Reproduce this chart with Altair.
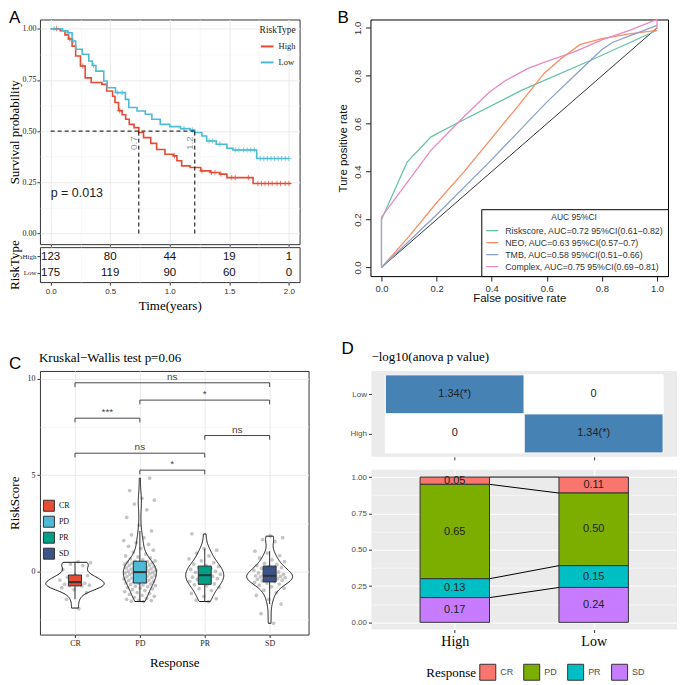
import altair as alt
import pandas as pd

SERIF = "Liberation Serif"
SANS = "Liberation Sans"
GRID = "#EBEBEB"
MINOR = "#F4F4F4"
TXT = "#333333"

# ---------------- Panel A : Kaplan-Meier ----------------
high_t = [0, 0.08, 0.12, 0.15, 0.18, 0.21, 0.25, 0.29, 0.34, 0.43, 0.47, 0.52, 0.54, 0.57, 0.60, 0.63,
          0.66, 0.70, 0.74, 0.78, 0.84, 0.89, 0.96, 1.03, 1.06, 1.10, 1.17, 1.26, 1.34, 1.42, 1.48, 1.70, 2.02]
high_s = [1.0, 0.99, 0.97, 0.95, 0.915, 0.867, 0.818, 0.76, 0.737, 0.728, 0.696, 0.67, 0.64, 0.60, 0.58, 0.558,
          0.533, 0.517, 0.493, 0.468, 0.44, 0.41, 0.387, 0.379, 0.355, 0.33, 0.322, 0.306, 0.298, 0.29, 0.273, 0.244, 0.244]
low_t = [0, 0.10, 0.14, 0.18, 0.21, 0.265, 0.32, 0.35, 0.38, 0.446, 0.474, 0.544, 0.628, 0.656, 0.725,
         0.795, 0.85, 0.92, 1.0, 1.09, 1.17, 1.21, 1.27, 1.31, 1.39, 1.48, 1.53, 1.73, 2.0]
low_s = [1.0, 0.99, 0.98, 0.94, 0.90, 0.875, 0.842, 0.82, 0.793, 0.745, 0.712, 0.688, 0.655, 0.615, 0.598,
         0.582, 0.558, 0.533, 0.522, 0.512, 0.505, 0.493, 0.476, 0.452, 0.436, 0.416, 0.408, 0.366, 0.366]
high_ct = [0.05, 0.16, 0.27, 0.58, 1.04, 1.27, 1.35, 1.38, 1.43, 1.52, 1.55, 1.66,
           1.74, 1.77, 1.80, 1.83, 1.86, 1.90, 1.93, 1.97, 2.00]
high_cs = [1.0, 0.95, 0.818, 0.60, 0.379, 0.306, 0.298, 0.298, 0.29, 0.273, 0.273, 0.273,
           0.244, 0.244, 0.244, 0.244, 0.244, 0.244, 0.244, 0.244, 0.244]
low_ct = [0.03, 0.15, 0.19, 0.36, 0.56, 0.60, 1.12, 1.19, 1.33, 1.36, 1.42, 1.55, 1.58, 1.62, 1.65, 1.68, 1.71,
          1.76, 1.79, 1.82, 1.85, 1.88, 1.91, 1.94, 1.97, 2.0]
low_cs = [1.0, 0.98, 0.94, 0.82, 0.688, 0.688, 0.512, 0.505, 0.452, 0.452, 0.436, 0.408, 0.408, 0.408, 0.408,
          0.408, 0.408, 0.366, 0.366, 0.366, 0.366, 0.366, 0.366, 0.366, 0.366, 0.366]
median_t = [0.74, 1.21]
median_lab = ["0.7", "1.2"]
pval_text = ["p = 0.013"]
pval_pos = [0.0, 0.20]
risk_times = [0, 0.5, 1, 1.5, 2]
risk_high = [123, 80, 44, 19, 1]
risk_low = [175, 119, 90, 60, 0]

# ---------------- Panel B : ROC ----------------
roc_labels = ["Riskscore, AUC=0.72 95%CI(0.61\u22120.82)", "NEO, AUC=0.63 95%CI(0.57\u22120.7)",
              "TMB, AUC=0.58 95%CI(0.51\u22120.66)", "Complex, AUC=0.75 95%CI(0.69\u22120.81)"]
roc_colors = ["#66C2A5", "#FC8D62", "#8DA0CB", "#E78AC3"]
risk_fpr = [0, 0, 0.093, 0.18, 0.27, 0.51, 0.76, 1.0]
risk_tpr = [0, 0.20, 0.44, 0.545, 0.60, 0.74, 0.865, 0.99]
neo_fpr = [0, 0.10, 0.20, 0.30, 0.40, 0.50, 0.59, 0.65, 0.72, 0.80, 0.90, 1.0]
neo_tpr = [0, 0.13, 0.27, 0.40, 0.54, 0.68, 0.81, 0.87, 0.93, 0.955, 0.975, 0.99]
tmb_fpr = [0, 0.20, 0.40, 0.60, 0.70, 0.80, 0.84, 0.92, 1.0]
tmb_tpr = [0, 0.22, 0.45, 0.69, 0.80, 0.91, 0.94, 0.975, 1.01]
cpx_fpr = [0, 0, 0.09, 0.18, 0.24, 0.30, 0.39, 0.45, 0.53, 0.60, 0.70, 0.80, 0.90, 1.0, 1.0]
cpx_tpr = [0, 0.21, 0.35, 0.49, 0.56, 0.63, 0.73, 0.78, 0.83, 0.86, 0.90, 0.95, 0.99, 1.035, 0.995]
diag_x = [0, 1]
diag_y = [0, 1]

# ---------------- Panel C : RiskScore by Response ----------------
resp = ["CR", "PD", "PR", "SD"]
resp_colors = ["#E64B35", "#4DBBD5", "#00A087", "#3C5488"]
cr_vals = [-1.94, -1.45, -1.1, -0.95, -0.85, -0.76, -0.74, -0.72, -0.7, -0.67, -0.62,
           -0.5, -0.45, -0.4, -0.3, -0.22, -0.18, 0.1, 0.3, 0.38, 0.45, 0.5]
pd_vals = [-1.57, -1.55, -1.52, -1.5, -1.45, -1.4, -1.35, -1.3, -1.25, -1.2, -1.15, -1.1, -1.05, -1.0, -0.95,
           -0.9, -0.87, -0.84, -0.8, -0.77, -0.74, -0.71, -0.68, -0.65, -0.62,
           -0.6, -0.57, -0.55, -0.52, -0.5, -0.47, -0.45, -0.42, -0.4, -0.37, -0.35, -0.32, -0.3, -0.27, -0.25,
           -0.22, -0.2, -0.18, -0.15, -0.13, -0.11, -0.09, -0.07, -0.06, -0.05,
           -0.03, 0.0, 0.02, 0.04, 0.06, 0.09, 0.11, 0.13, 0.15, 0.18, 0.2, 0.22, 0.25, 0.27, 0.3, 0.32, 0.35,
           0.37, 0.4, 0.42, 0.44, 0.46, 0.48, 0.5, 0.52,
           0.55, 0.6, 0.65, 0.7, 0.75, 0.8, 0.9, 1.0, 1.1, 1.2, 1.3, 1.4, 1.5, 1.6, 1.75, 1.9, 2.1, 2.4, 2.8,
           3.2, 3.5, 3.7, 3.8, 4.2, 4.85]
pr_vals = [-1.57, -1.5, -1.42, -1.3, -1.15, -1.0, -0.9, -0.82, -0.75, -0.7, -0.65, -0.58, -0.52, -0.47,
           -0.42, -0.38, -0.34, -0.3, -0.26, -0.2, -0.15, -0.1, -0.05, 0.0, 0.05, 0.1, 0.15, 0.2, 0.25, 0.3,
           0.38, 0.45, 0.55, 0.65, 0.8, 0.95, 1.1, 1.18, 1.95]
sd_vals = [-2.7, -2.2, -1.7, -1.45, -1.25, -1.1, -0.98, -0.88, -0.8, -0.72, -0.66, -0.61, -0.57, -0.53, -0.5,
           -0.47, -0.44, -0.41, -0.38, -0.35, -0.33, -0.31, -0.29, -0.27, -0.25, -0.23, -0.21, -0.18, -0.15,
           -0.12, -0.08, -0.04, 0.0, 0.05, 0.1, 0.15, 0.2, 0.25, 0.3, 0.35, 0.42, 0.5, 0.6, 0.7, 0.82, 0.95,
           1.05, 1.55, 1.65, 1.75, 1.85]
br_from = ["CR", "PD", "CR", "PR", "CR", "PD"]
br_to = ["SD", "SD", "PD", "SD", "PR", "PR"]
br_y = [9.8, 8.9, 7.96, 7.06, 6.14, 5.26]
br_lab = ["ns", "*", "***", "ns", "ns", "*"]

# ---------------- Panel D : heatmap + stacked proportions ----------------
hm_col = ["High", "Low", "High", "Low"]
hm_row = ["Low", "Low", "High", "High"]
hm_val = [1.34, 0, 0, 1.34]
hm_lab = ["1.34(*)", "0", "0", "1.34(*)"]
bar_group = ["High"] * 4 + ["Low"] * 4
bar_resp = ["CR", "PD", "PR", "SD"] * 2
bar_prop = [0.05, 0.65, 0.13, 0.17, 0.11, 0.50, 0.15, 0.24]
d_colors = ["#F8766D", "#7CAE00", "#00BFC4", "#C77CFF"]


def label(txt, dx, dy, font=SANS, size=17, baseline="top"):
    return alt.Chart(pd.DataFrame({"lab": [txt]})).mark_text(
        font=font, fontSize=size, align="left", baseline=baseline, color="black"
    ).encode(text="lab:N", x=alt.value(dx), y=alt.value(dy))


def grid_axis(orient, values, color, width):
    return alt.Axis(orient=orient, values=values, labels=False, ticks=False, domain=False,
                    title=None, grid=True, gridColor=color, gridWidth=width)


# ======== A ========
xA = alt.Scale(domain=[-0.09, 2.09], nice=False, zero=False)
yA = alt.Scale(domain=[-0.052, 1.045], nice=False, zero=False)
colA = alt.Scale(domain=["High", "Low"], range=["#E64B35", "#4DBBD5"])

km_df = pd.DataFrame({"time": high_t + low_t, "surv": high_s + low_s,
                      "RiskType": ["High"] * len(high_t) + ["Low"] * len(low_t)})
cens_df = pd.DataFrame({"time": high_ct + low_ct, "surv": high_cs + low_cs,
                        "RiskType": ["High"] * len(high_ct) + ["Low"] * len(low_ct)})
med_df = pd.DataFrame({"t": median_t, "lab": median_lab})
pv_df = pd.DataFrame({"t": [pval_pos[0]], "s": [pval_pos[1]], "lab": pval_text})

km_minor = alt.Chart(km_df).mark_point(opacity=0).encode(
    x=alt.X("time:Q", scale=xA, axis=grid_axis("bottom", [0.25, 0.75, 1.25, 1.75], MINOR, 0.6)),
    y=alt.Y("surv:Q", scale=yA, axis=grid_axis("left", [0.125, 0.375, 0.625, 0.875], MINOR, 0.6)),
)
km_lines = alt.Chart(km_df).mark_line(interpolate="step-after", strokeWidth=1.6).encode(
    x=alt.X("time:Q", scale=xA, axis=alt.Axis(orient="bottom", values=[0, 0.5, 1, 1.5, 2], labels=False,
                                               tickColor=TXT, tickSize=2, domain=False, title=None,
                                               grid=True, gridColor=GRID)),
    y=alt.Y("surv:Q", scale=yA, axis=alt.Axis(orient="left", values=[0, 0.25, 0.5, 0.75, 1], format=".2f",
                                               labelFont=SERIF, labelFontSize=8, labelColor="#222",
                                               tickColor=TXT, tickSize=3, domain=False, grid=True,
                                               gridColor=GRID, title="Survival probability",
                                               titleFont=SERIF, titleFontSize=13, titleColor="black",
                                               titlePadding=0, labelPadding=1)),
    color=alt.Color("RiskType:N", scale=colA, legend=alt.Legend(
        orient="none", legendX=220, legendY=6, title="RiskType", titleFont=SERIF, titleFontSize=9.5,
        titleColor="#222", labelFont=SERIF, labelFontSize=8.5, labelColor="#222", symbolType="stroke",
        symbolStrokeWidth=2, symbolSize=160, rowPadding=4, titlePadding=4, padding=0)),
)
km_cens = alt.Chart(cens_df).mark_point(shape="M-1,0L1,0M0,-1L0,1", filled=False, size=28, strokeWidth=1).encode(
    x=alt.X("time:Q", scale=xA, axis=None), y=alt.Y("surv:Q", scale=yA, axis=None),
    color=alt.Color("RiskType:N", scale=colA, legend=None))
med_h = alt.Chart(med_df).transform_aggregate(tmax="max(t)").transform_calculate(t0="0", lev="0.5").mark_rule(
    strokeDash=[4, 3], color="black", strokeWidth=1).encode(
    x=alt.X("t0:Q", scale=xA, axis=None), x2="tmax:Q", y=alt.Y("lev:Q", scale=yA, axis=None))
med_v = alt.Chart(med_df).transform_calculate(z="0", lev="0.5").mark_rule(
    strokeDash=[4, 3], color="black", strokeWidth=1).encode(
    x=alt.X("t:Q", scale=xA, axis=None), y=alt.Y("z:Q", scale=yA, axis=None), y2="lev:Q")
med_t = alt.Chart(med_df).transform_calculate(lev="0.5").mark_text(
    angle=270, align="right", baseline="bottom", dx=-5, font=SANS, fontSize=10, color="#9A9A9A").encode(
    x=alt.X("t:Q", scale=xA, axis=None), y=alt.Y("lev:Q", scale=yA, axis=None), text="lab:N")
pv = alt.Chart(pv_df).mark_text(align="left", baseline="middle", font=SANS, fontSize=12.5, color="#222").encode(
    x=alt.X("t:Q", scale=xA, axis=None), y=alt.Y("s:Q", scale=yA, axis=None), text="lab:N")

km = alt.layer(km_minor, km_lines, km_cens, med_h, med_v, med_t, pv, label("A", -31, -9)).resolve_axis(
    x="independent", y="independent").properties(
    width=260, height=225, view=alt.ViewBackground(stroke="#333", strokeWidth=1))

tab_df = pd.DataFrame({"time": risk_times * 2, "n": risk_high + risk_low,
                       "RiskType": ["High"] * len(risk_times) + ["Low"] * len(risk_times)})
tab_minor = alt.Chart(tab_df).mark_point(opacity=0).encode(
    x=alt.X("time:Q", scale=xA, axis=grid_axis("bottom", [0.25, 0.75, 1.25, 1.75], MINOR, 0.6)))
tab_text = alt.Chart(tab_df).mark_text(font=SANS, fontSize=11.5, color="#111").encode(
    x=alt.X("time:Q", scale=xA, axis=alt.Axis(orient="bottom", values=[0, 0.5, 1, 1.5, 2], labelFont=SANS,
                                               labelFontSize=8, labelColor=TXT, tickColor=TXT, tickSize=3,
                                               domain=False, grid=True, gridColor=GRID, title="Time(years)",
                                               titleFont=SERIF, titleFontSize=13, titleColor="black",
                                               titlePadding=4, labelPadding=2)),
    y=alt.Y("RiskType:N", sort=["High", "Low"], scale=alt.Scale(type="point", padding=0.59),
            axis=alt.Axis(orient="left", labelFont=SERIF, labelFontSize=7, labelColor="#222", tickColor=TXT,
                          tickSize=3, domain=False, grid=False, title="RiskType", titleFont=SERIF,
                          titleFontSize=13, titleColor="black", titlePadding=0, labelPadding=1)),
    text="n:Q")
table = alt.layer(tab_minor, tab_text).resolve_axis(x="independent").properties(
    width=260, height=35, view=alt.ViewBackground(stroke="#333", strokeWidth=1))

panelA = alt.vconcat(km, table, spacing=-8)

# ======== B ========
rows = []
for lab, fx, ty in zip(roc_labels, [risk_fpr, neo_fpr, tmb_fpr, cpx_fpr], [risk_tpr, neo_tpr, tmb_tpr, cpx_tpr]):
    for i, (a, b) in enumerate(zip(fx, ty)):
        rows.append({"model": lab, "fpr": a, "tpr": b, "idx": i})
roc_df = pd.DataFrame(rows)
diag_df = pd.DataFrame({"fpr": diag_x, "tpr": diag_y})
xB = alt.Scale(domain=[-0.04, 1.04], nice=False, zero=False)
yB = alt.Scale(domain=[-0.036, 1.035], nice=False, zero=False)
axB = dict(values=[0, 0.2, 0.4, 0.6, 0.8, 1.0], format=".1f", labelFont=SANS, labelFontSize=9.5, labelColor=TXT,
           tickColor="#222", tickSize=5, domain=False, grid=False, titleFont=SANS, titleFontSize=11.5,
           titleColor="#111")
diag_line = alt.Chart(diag_df).mark_line(color="black", strokeWidth=0.8).encode(
    x=alt.X("fpr:Q", scale=xB, axis=None), y=alt.Y("tpr:Q", scale=yB, axis=None))
roc_lines = alt.Chart(roc_df).mark_line(strokeWidth=1.3).encode(
    x=alt.X("fpr:Q", scale=xB, axis=alt.Axis(orient="bottom", title="False positive rate", titlePadding=0,
                                             labelPadding=2, **axB)),
    y=alt.Y("tpr:Q", scale=yB, axis=alt.Axis(orient="left", title="Ture positive rate", labelAngle=270,
                                             labelAlign="center", labelBaseline="bottom", titlePadding=4,
                                             labelPadding=3, **axB)),
    color=alt.Color("model:N", scale=alt.Scale(domain=roc_labels, range=roc_colors), legend=alt.Legend(
        orient="bottom-right", offset=0, title="AUC 95%CI", titleAnchor="middle", titleFont=SANS,
        titleFontSize=8.5, titleColor=TXT, labelFont=SANS, labelFontSize=8.8, labelColor=TXT,
        symbolType="stroke", symbolStrokeWidth=1.3, symbolSize=144, strokeColor="black", fillColor="white",
        padding=4, rowPadding=0, labelLimit=300, titlePadding=2, labelOffset=6)),
    order="idx:Q")
roc = alt.layer(diag_line, roc_lines, label("B", -33, -9)).resolve_axis(
    x="independent", y="independent").properties(
    width=298, height=257, view=alt.ViewBackground(stroke="black", strokeWidth=1))

top = alt.hconcat(panelA, roc, spacing=36).resolve_scale(color="independent", fill="independent")

# ======== C ========
score_df = pd.DataFrame({"Response": ["CR"] * len(cr_vals) + ["PD"] * len(pd_vals) + ["PR"] * len(pr_vals)
                         + ["SD"] * len(sd_vals), "score": cr_vals + pd_vals + pr_vals + sd_vals})
POS = "indexof(['CR','PD','PR','SD'], datum.Response) + 1"
xC = alt.Scale(domain=[0.46, 4.6], nice=False, zero=False)
yC = alt.Scale(domain=[-3.285, 10.415], nice=False, zero=False)

c_minor = alt.Chart(score_df).mark_point(opacity=0).transform_calculate(pos=POS).encode(
    x=alt.X("pos:Q", scale=xC, axis=None),
    y=alt.Y("score:Q", scale=yC, axis=grid_axis("left", [-2.5, 2.5, 7.5], MINOR, 0.6)))
violin = (alt.Chart(score_df)
          .transform_joinaggregate(gmin="min(score)", gmax="max(score)", groupby=["Response"])
          .transform_density("score", groupby=["Response", "gmin", "gmax"], as_=["score", "density"], steps=200)
          .transform_filter("datum.score >= datum.gmin && datum.score <= datum.gmax")
          .transform_joinaggregate(dmax="max(density)")
          .transform_calculate(pos=POS, xl="datum.pos - 0.45*datum.density/datum.dmax",
                               xr="datum.pos + 0.45*datum.density/datum.dmax")
          .mark_area(orient="horizontal", fillOpacity=0, stroke="#1a1a1a", strokeWidth=1)
          .encode(y=alt.Y("score:Q", scale=yC, axis=None), x=alt.X("xl:Q", scale=xC, axis=None), x2="xr:Q",
                  detail="Response:N"))
points = (alt.Chart(score_df)
          .transform_window(idx="row_number()", groupby=["Response"])
          .transform_calculate(pos=POS, jx="datum.pos + ((datum.idx * 0.6180339887) % 1 - 0.5) * 0.5")
          .mark_circle(size=14, color="#7f7f7f", opacity=0.45)
          .encode(x=alt.X("jx:Q", scale=xC, axis=alt.Axis(
              orient="bottom", values=[1, 2, 3, 4], labelExpr="['CR','PD','PR','SD'][datum.value - 1]",
              labelFont=SERIF, labelFontSize=8, labelColor="#222", tickColor=TXT, tickSize=3, domain=False,
              grid=True, gridColor=GRID, title="Response", titleFont=SERIF, titleFontSize=13,
              titleColor="black", titlePadding=9)),
              y=alt.Y("score:Q", scale=yC, axis=alt.Axis(
                  orient="left", values=[0, 5, 10], labelFont=SERIF, labelFontSize=8, labelColor="#222",
                  tickColor=TXT, tickSize=3, domain=False, grid=True, gridColor=GRID, title="RiskScore",
                  titleFont=SERIF, titleFontSize=13, titleColor="black", titlePadding=5))))
whisk = (alt.Chart(score_df).transform_calculate(pos=POS)
         .transform_joinaggregate(q1="q1(score)", q3="q3(score)", groupby=["Response"])
         .transform_calculate(lo="datum.q1 - 1.5*(datum.q3 - datum.q1)", hi="datum.q3 + 1.5*(datum.q3 - datum.q1)")
         .transform_filter("datum.score >= datum.lo && datum.score <= datum.hi")
         .transform_aggregate(wmin="min(score)", wmax="max(score)", groupby=["Response", "pos"])
         .mark_rule(color="#333", strokeWidth=1)
         .encode(x=alt.X("pos:Q", scale=xC, axis=None), y=alt.Y("wmin:Q", scale=yC, axis=None), y2="wmax:Q"))
box_base = (alt.Chart(score_df).transform_calculate(pos=POS)
            .transform_aggregate(q1="q1(score)", med="median(score)", q3="q3(score)", groupby=["Response", "pos"])
            .transform_calculate(bl="datum.pos - 0.1", br="datum.pos + 0.1"))
box = box_base.mark_rect(stroke="#333", strokeWidth=1).encode(
    x=alt.X("bl:Q", scale=xC, axis=None), x2="br:Q", y=alt.Y("q1:Q", scale=yC, axis=None), y2="q3:Q",
    fill=alt.Fill("Response:N", scale=alt.Scale(domain=resp, range=resp_colors), legend=alt.Legend(
        orient="none", legendX=3, legendY=129, title=None, symbolType="square", symbolSize=121,
        symbolStrokeColor="#333", symbolStrokeWidth=1, labelFont=SERIF, labelFontSize=8, labelColor="#111",
        rowPadding=0, padding=0, labelOffset=4)))
med = box_base.mark_rule(color="#333", strokeWidth=2).encode(
    x=alt.X("bl:Q", scale=xC, axis=None), x2="br:Q", y=alt.Y("med:Q", scale=yC, axis=None))

br_df = pd.DataFrame({"g1": br_from, "g2": br_to, "y": br_y, "lab": br_lab})
br_base = alt.Chart(br_df).transform_calculate(
    x1="indexof(['CR','PD','PR','SD'], datum.g1) + 1", x2="indexof(['CR','PD','PR','SD'], datum.g2) + 1",
    yl="datum.y - 0.22", xm="(datum.x1 + datum.x2) / 2")
br_h = br_base.mark_rule(color="#333", strokeWidth=0.9).encode(
    x=alt.X("x1:Q", scale=xC, axis=None), x2="x2:Q", y=alt.Y("y:Q", scale=yC, axis=None))
br_l = br_base.mark_rule(color="#333", strokeWidth=0.9).encode(
    x=alt.X("x1:Q", scale=xC, axis=None), y=alt.Y("y:Q", scale=yC, axis=None), y2="yl:Q")
br_r = br_base.mark_rule(color="#333", strokeWidth=0.9).encode(
    x=alt.X("x2:Q", scale=xC, axis=None), y=alt.Y("y:Q", scale=yC, axis=None), y2="yl:Q")
br_t = br_base.mark_text(font=SANS, fontSize=10, color="#444", baseline="bottom", dy=-1).encode(
    x=alt.X("xm:Q", scale=xC, axis=None), y=alt.Y("y:Q", scale=yC, axis=None), text="lab:N")

panelC = alt.layer(c_minor, points, violin, whisk, box, med, br_h, br_l, br_r, br_t,
                   label("C", -31, -15),
                   label("Kruskal\u2212Wallis test p=0.06", -1, -9, SERIF, 13, "alphabetic")).resolve_axis(
    x="independent", y="independent").properties(
    width=269, height=264, view=alt.ViewBackground(stroke="#333", strokeWidth=1))

# ======== D ========
xD = alt.Scale(domain=[0.4, 2.6], nice=False, zero=False)
yH = alt.Scale(domain=[0.4, 2.6], nice=False, zero=False)
yD = alt.Scale(domain=[-0.05, 1.05], nice=False, zero=False)

hm_df = pd.DataFrame({"col": hm_col, "row": hm_row, "val": hm_val, "lab": hm_lab})
hm_base = alt.Chart(hm_df).transform_calculate(
    px="datum.col == 'High' ? 1 : 2", py="datum.row == 'High' ? 1 : 2",
    xl="datum.px - 0.5", xr="datum.px + 0.5", yl="datum.py - 0.5", yr="datum.py + 0.5")
hm_tiles = hm_base.mark_rect(stroke="white", strokeWidth=1).encode(
    x=alt.X("xl:Q", scale=xD, axis=alt.Axis(orient="bottom", values=[1, 2], labels=False, tickColor=TXT,
                                             tickSize=3, domain=False, grid=False, title=None)),
    x2="xr:Q",
    y=alt.Y("yl:Q", scale=yH, axis=alt.Axis(orient="left", values=[1, 2],
                                             labelExpr="datum.value == 2 ? 'Low' : 'High'",
                                             labelFont=SANS, labelFontSize=8, labelColor="#4D4D4D",
                                             tickColor=TXT, tickSize=3, domain=False, grid=False, title=None)),
    y2="yr:Q",
    fill=alt.condition("datum.val > 0", alt.value("#4682B4"), alt.value("#FFFFFF")))
hm_text = hm_base.mark_text(font=SANS, fontSize=11, color="#222").encode(
    x=alt.X("px:Q", scale=xD, axis=None), y=alt.Y("py:Q", scale=yH, axis=None), text="lab:N")
heat = alt.layer(hm_tiles, hm_text, label("D", -30, -30),
                 label("\u2212log10(anova p value)", 0, -10, SERIF, 13, "alphabetic")).resolve_axis(
    x="independent", y="independent").properties(
    width=306, height=86, view=alt.ViewBackground(fill="#EBEBEB", stroke=None))

bar_df = pd.DataFrame({"group": bar_group, "Response": bar_resp, "prop": bar_prop})
bar_base = (alt.Chart(bar_df)
            .transform_calculate(pos="datum.group == 'High' ? 1 : 2",
                                 ord="indexof(['CR','PD','PR','SD'], datum.Response)")
            .transform_stack(stack="prop", groupby=["group"], as_=["y0", "y1"],
                             sort=[alt.SortField("ord", order="descending")])
            .transform_calculate(xl="datum.pos - 0.25", xr="datum.pos + 0.25", mid="(datum.y0 + datum.y1) / 2",
                                 lx="datum.pos == 1 ? datum.pos + 0.25 : datum.pos - 0.25"))
bar_minor = bar_base.mark_point(opacity=0).encode(
    x=alt.X("pos:Q", scale=xD, axis=None),
    y=alt.Y("y1:Q", scale=yD, axis=grid_axis("left", [0.125, 0.375, 0.625, 0.875], "white", 0.5)))
bars = bar_base.mark_rect(stroke="#333", strokeWidth=1).encode(
    x=alt.X("xl:Q", scale=xD, axis=alt.Axis(orient="bottom", values=[1, 2],
                                             labelExpr="datum.value == 1 ? 'High' : 'Low'", labelFont=SERIF,
                                             labelFontSize=14, labelColor="black", tickColor=TXT, tickSize=3,
                                             domain=False, grid=True, gridColor="white", gridWidth=1,
                                             title=None, labelPadding=2)),
    x2="xr:Q",
    y=alt.Y("y0:Q", scale=yD, axis=alt.Axis(orient="left", values=[0, 0.25, 0.5, 0.75, 1], format=".2f",
                                             labelFont=SANS, labelFontSize=8, labelColor="#4D4D4D",
                                             tickColor=TXT, tickSize=3, domain=False, grid=True,
                                             gridColor="white", gridWidth=1, title=None)),
    y2="y1:Q",
    fill=alt.Fill("Response:N", scale=alt.Scale(domain=resp, range=d_colors), legend=alt.Legend(
        orient="none", legendX=55, legendY=194, direction="horizontal", title="Response", titleOrient="left",
        titleFont=SERIF, titleFontSize=13, titleColor="black", labelFont=SANS, labelFontSize=9,
        labelColor="#4D4D4D", symbolType="square", symbolSize=256, symbolStrokeColor="#333",
        symbolStrokeWidth=1, columnPadding=8, labelOffset=4, titlePadding=3, padding=0)))
bar_text = bar_base.mark_text(font=SANS, fontSize=11, color="#222").encode(
    x=alt.X("pos:Q", scale=xD, axis=None), y=alt.Y("mid:Q", scale=yD, axis=None),
    text=alt.Text("prop:Q", format=".2f"))
bar_lines = bar_base.mark_line(color="black", strokeWidth=1).encode(
    x=alt.X("lx:Q", scale=xD, axis=None), y=alt.Y("y1:Q", scale=yD, axis=None), detail="Response:N")
barsD = alt.layer(bar_minor, bars, bar_lines, bar_text).resolve_axis(x="independent", y="independent").properties(
    width=306, height=160, view=alt.ViewBackground(fill="#EBEBEB", stroke=None))

panelD = alt.vconcat(heat, barsD, spacing=9).resolve_scale(fill="independent")
bottom = alt.hconcat(panelC, panelD, spacing=32).resolve_scale(fill="independent", color="independent")

chart = (alt.vconcat(top, bottom, spacing=27)
         .resolve_scale(color="independent", fill="independent")
         .properties(padding={"left": 0, "top": 0, "right": 0, "bottom": 0})
         .configure_view(stroke=None)
         .configure_axis(titleFontWeight="normal", labelFontWeight="normal")
         .configure_legend(titleFontWeight="normal")
         .configure_title(fontWeight="normal"))

chart.save("out.html", embed_options={"renderer": "svg", "actions": False})
